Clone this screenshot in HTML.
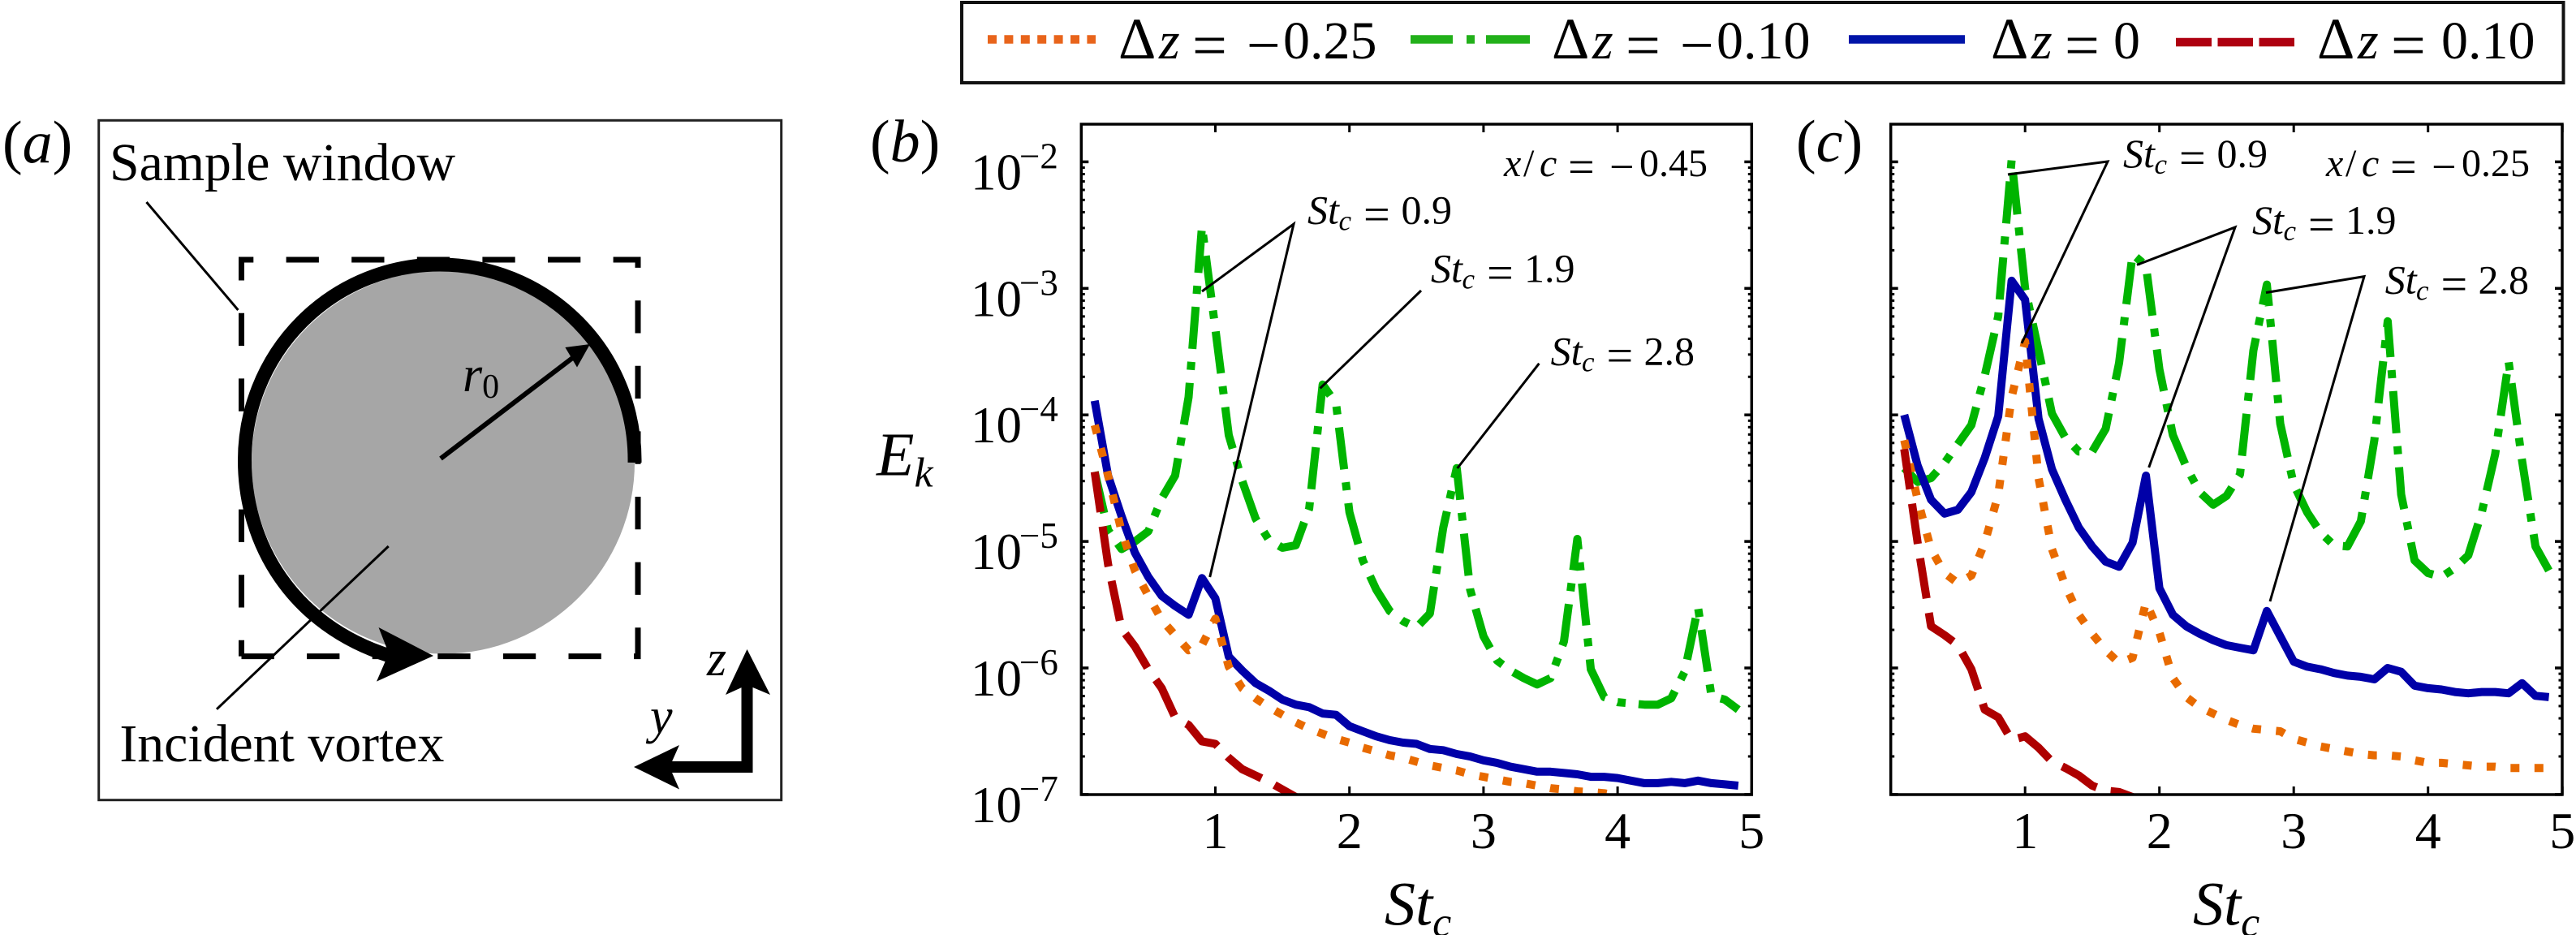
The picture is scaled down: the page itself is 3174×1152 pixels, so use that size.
<!DOCTYPE html>
<html lang="en">
<head>
<meta charset="utf-8">
<title>Vortex spectra</title>
<style>
html,body{margin:0;padding:0;background:#fff;}
svg{display:block;}
text{font-family:"Liberation Serif",serif;fill:#000;}
.i{font-style:italic;}
</style>
</head>
<body>
<svg id="figure" xmlns="http://www.w3.org/2000/svg" width="3174" height="1152" viewBox="0 0 3174 1152">
<rect x="0" y="0" width="3174" height="1152" fill="#fff"/>

<g>
<rect x="1185" y="3" width="1973.5" height="99" fill="#fff" stroke="#111" stroke-width="4"/>
<g>
<line x1="1217" y1="48.5" x2="1350" y2="48.5" stroke="#E8641B" stroke-width="10.5" stroke-dasharray="11 9.4"/>
<text y="72" font-size="66"><tspan x="1378" font-size="72">Δ</tspan><tspan x="1428" class="i">z</tspan><tspan x="1469" font-size="76" dy="9.5">=</tspan><tspan x="1536" font-size="74" dy="-0.8">−</tspan><tspan x="1581" dy="-8.7">0.25</tspan></text>
</g>
<g>
<line x1="1738" y1="48.5" x2="1885" y2="48.5" stroke="#22B01A" stroke-width="10.5" stroke-dasharray="52 17 10 14 54 0"/>
<text y="72" font-size="66"><tspan x="1912" font-size="72">Δ</tspan><tspan x="1962" class="i">z</tspan><tspan x="2003" font-size="76" dy="9.5">=</tspan><tspan x="2070" font-size="74" dy="-0.8">−</tspan><tspan x="2115" dy="-8.7">0.10</tspan></text>
</g>
<g>
<line x1="2278" y1="48.5" x2="2421" y2="48.5" stroke="#0014A8" stroke-width="10.5"/>
<text y="72" font-size="66"><tspan x="2453" font-size="72">Δ</tspan><tspan x="2503" class="i">z</tspan><tspan x="2544" font-size="76" dy="9.5">=</tspan><tspan x="2604" dy="-9.5">0</tspan></text>
</g>
<g>
<line x1="2681" y1="52" x2="2827" y2="52" stroke="#AE0010" stroke-width="10.5" stroke-dasharray="44 7.5 43.5 7.5 44 0"/>
<text y="72" font-size="66"><tspan x="2855" font-size="72">Δ</tspan><tspan x="2905" class="i">z</tspan><tspan x="2946" font-size="76" dy="9.5">=</tspan><tspan x="3008" dy="-9.5">0.10</tspan></text>
</g>
</g>

<g>
<text x="3" y="200" font-size="74">(<tspan class="i">a</tspan>)</text>
<rect x="121.7" y="148.3" width="841" height="837.4" fill="#fff" stroke="#222" stroke-width="3"/>
<circle cx="546" cy="569.5" r="236" fill="#A6A6A6"/>
<path d="M297.5,808.6 L786,808.6 L786,320 L297.5,320 L297.5,808.6" fill="none" stroke="#000" stroke-width="7" stroke-dasharray="40.3 40.3"/>
<path d="M782,570 A240,241 0 0 0 542,326 A240,241 0 0 0 301.5,567 C301.5,670 360,770 480,808" fill="none" stroke="#000" stroke-width="17"/>
<polygon points="466.5,773 534,808 464,839.6 479,805" fill="#000"/>
<line x1="543" y1="565" x2="712" y2="436" stroke="#000" stroke-width="6"/>
<polygon points="727,424 696.4,428 711,452.5" fill="#000"/>
<text x="570" y="482" font-size="62"><tspan class="i">r</tspan><tspan font-size="42" dy="8">0</tspan></text>
<text x="135" y="222" font-size="66" textLength="426" lengthAdjust="spacingAndGlyphs">Sample window</text>
<line x1="180.5" y1="249" x2="293.4" y2="382" stroke="#000" stroke-width="3"/>
<text x="147.4" y="938" font-size="66" textLength="400" lengthAdjust="spacingAndGlyphs">Incident vortex</text>
<line x1="478.7" y1="673" x2="267" y2="873.8" stroke="#000" stroke-width="3"/>
<path d="M920.5,840 V945 H820" fill="none" stroke="#000" stroke-width="14"/>
<polygon points="920.5,800 949,856 920.5,844 894,856" fill="#000"/>
<polygon points="781,945 837,918 825,945 837,972.5" fill="#000"/>
<text class="i" x="871" y="832" font-size="62">z</text>
<text class="i" x="801" y="903" font-size="62">y</text>
</g>

<text x="1072" y="199" font-size="74">(<tspan class="i">b</tspan>)</text>
<text x="2213" y="199" font-size="74">(<tspan class="i">c</tspan>)</text>
<text x="1080" y="585.5" font-size="76" class="i">E<tspan font-size="52" dy="14">k</tspan></text>
<text x="1706" y="1139.5" font-size="76" class="i">St<tspan font-size="52" dy="14">c</tspan></text>
<text x="2702" y="1139.5" font-size="76" class="i">St<tspan font-size="52" dy="14">c</tspan></text>

<g id="panel-b"></g>
<g id="panel-c"></g>

<g fill="none">
<text y="217" font-size="48"><tspan x="1853" class="i">x</tspan><tspan x="1877">/</tspan><tspan x="1897" class="i">c</tspan><tspan x="1932" font-size="58" dy="8">=</tspan><tspan x="1983" font-size="54" dy="-1.5">−</tspan><tspan x="2020" dy="-6.5">0.45</tspan></text>
<text y="275.5" font-size="50"><tspan x="1611" class="i">St</tspan><tspan x="1649.5" class="i" font-size="35" dy="8">c</tspan><tspan x="1680" font-size="58">=</tspan><tspan x="1726.5" dy="-8">0.9</tspan></text>
<text y="347.5" font-size="50"><tspan x="1763" class="i">St</tspan><tspan x="1801.5" class="i" font-size="35" dy="8">c</tspan><tspan x="1832" font-size="58">=</tspan><tspan x="1878" dy="-8">1.9</tspan></text>
<text y="449.7" font-size="50"><tspan x="1910.6" class="i">St</tspan><tspan x="1949" class="i" font-size="35" dy="8">c</tspan><tspan x="1979.5" font-size="58">=</tspan><tspan x="2025.5" dy="-8">2.8</tspan></text>
<polyline points="1481,359 1594,276 1490.7,711" stroke="#000" stroke-width="3"/>
<line x1="1751" y1="358" x2="1626.6" y2="478.4" stroke="#000" stroke-width="3"/>
<line x1="1896.4" y1="447.8" x2="1795.6" y2="577" stroke="#000" stroke-width="3"/>
</g>
<g fill="none">
<text y="217" font-size="48"><tspan x="2866" class="i">x</tspan><tspan x="2890">/</tspan><tspan x="2910" class="i">c</tspan><tspan x="2945" font-size="58" dy="8">=</tspan><tspan x="2996" font-size="54" dy="-1.5">−</tspan><tspan x="3033" dy="-6.5">0.25</tspan></text>
<text y="206" font-size="50"><tspan x="2616" class="i">St</tspan><tspan x="2654.5" class="i" font-size="35" dy="8">c</tspan><tspan x="2685" font-size="58">=</tspan><tspan x="2731.5" dy="-8">0.9</tspan></text>
<text y="288" font-size="50"><tspan x="2775" class="i">St</tspan><tspan x="2813.5" class="i" font-size="35" dy="8">c</tspan><tspan x="2844" font-size="58">=</tspan><tspan x="2890" dy="-8">1.9</tspan></text>
<text y="361.6" font-size="50"><tspan x="2938.7" class="i">St</tspan><tspan x="2977" class="i" font-size="35" dy="8">c</tspan><tspan x="3007.5" font-size="58">=</tspan><tspan x="3053.5" dy="-8">2.8</tspan></text>
<polyline points="2474,215 2597,199 2491,423" stroke="#000" stroke-width="3"/>
<polyline points="2633,326.4 2754,280 2647.7,576" stroke="#000" stroke-width="3"/>
<polyline points="2792,360.5 2913,340.6 2797,741" stroke="#000" stroke-width="3"/>
</g>
</svg>

<script>
const stValues = [0.1,0.2,0.3,0.4,0.5,0.6,0.7,0.8,0.9,1.0,1.1,1.2,1.3,1.4,1.5,1.6,1.7,1.8,1.9,2.0,2.1,2.2,2.3,2.4,2.5,2.6,2.7,2.8,2.9,3.0,3.1,3.2,3.3,3.4,3.5,3.6,3.7,3.8,3.9,4.0,4.1,4.2,4.3,4.4,4.5,4.6,4.7,4.8,4.9];
const xTickValues = [1,2,3,4,5];
const yTickExponents = [-2,-3,-4,-5,-6,-7];
const yTickMinusLabels = ["−2","−3","−4","−5","−6","−7"];
const minorMultipliers = [2,3,4,5,6,7,8,9];

/* log10(E_k) values, one per St value */
const panelBGreen = [-4.45,-4.91,-5.06,-5.0,-4.92,-4.66,-4.48,-3.86,-2.51,-3.32,-4.16,-4.52,-4.82,-4.99,-5.05,-5.03,-4.74,-3.76,-3.91,-4.77,-5.15,-5.38,-5.55,-5.63,-5.68,-5.57,-4.89,-4.42,-5.38,-5.75,-5.94,-6.02,-6.08,-6.13,-6.08,-5.79,-4.98,-6.01,-6.23,-6.27,-6.28,-6.29,-6.29,-6.24,-6.03,-5.52,-6.22,-6.25,-6.33];
const panelBBlue = [-3.888,-4.48,-4.80,-5.09,-5.28,-5.43,-5.51,-5.58,-5.29,-5.45,-5.91,-6.02,-6.12,-6.18,-6.25,-6.29,-6.31,-6.36,-6.37,-6.46,-6.50,-6.54,-6.57,-6.59,-6.60,-6.64,-6.65,-6.68,-6.70,-6.73,-6.75,-6.78,-6.80,-6.82,-6.82,-6.83,-6.84,-6.86,-6.86,-6.87,-6.89,-6.91,-6.91,-6.90,-6.91,-6.89,-6.91,-6.92,-6.93];
const panelBOrange = [-4.08,-4.48,-4.92,-5.23,-5.43,-5.62,-5.74,-5.86,-5.82,-5.61,-5.99,-6.16,-6.24,-6.31,-6.37,-6.43,-6.48,-6.52,-6.56,-6.59,-6.63,-6.66,-6.69,-6.71,-6.74,-6.77,-6.79,-6.81,-6.84,-6.86,-6.88,-6.90,-6.91,-6.93,-6.95,-6.96,-6.975,-6.98,-6.99,-7.01,-7.05];
const panelBRed = [-4.45,-5.18,-5.69,-5.83,-6.01,-6.16,-6.39,-6.45,-6.58,-6.60,-6.71,-6.80,-6.85,-6.90,-6.96,-7.02,-7.10];

const panelCGreen = [-4.42,-4.53,-4.50,-4.38,-4.23,-4.08,-3.69,-3.22,-1.985,-3.0,-3.49,-3.99,-4.18,-4.29,-4.29,-4.11,-3.59,-2.73,-2.82,-3.64,-4.16,-4.41,-4.61,-4.71,-4.64,-4.47,-3.49,-2.97,-4.07,-4.55,-4.77,-4.93,-5.03,-5.04,-4.84,-4.2,-3.26,-4.63,-5.15,-5.25,-5.28,-5.21,-5.11,-4.77,-4.31,-3.58,-4.36,-5.04,-5.23];
const panelCBlue = [-4.0,-4.40,-4.67,-4.78,-4.75,-4.61,-4.34,-4.01,-2.94,-3.09,-4.03,-4.43,-4.67,-4.89,-5.04,-5.16,-5.20,-5.01,-4.48,-5.37,-5.58,-5.67,-5.73,-5.78,-5.82,-5.84,-5.86,-5.55,-5.75,-5.95,-5.99,-6.01,-6.04,-6.06,-6.07,-6.09,-6.00,-6.03,-6.14,-6.16,-6.17,-6.19,-6.20,-6.19,-6.19,-6.20,-6.12,-6.22,-6.23];
const panelCOrange = [-4.2,-4.67,-5.06,-5.25,-5.33,-5.27,-5.01,-4.63,-3.86,-3.42,-4.5,-5.06,-5.35,-5.58,-5.73,-5.86,-5.96,-5.92,-5.48,-5.72,-6.08,-6.23,-6.31,-6.36,-6.41,-6.45,-6.48,-6.49,-6.50,-6.56,-6.59,-6.62,-6.64,-6.66,-6.68,-6.69,-6.69,-6.70,-6.73,-6.75,-6.75,-6.76,-6.77,-6.78,-6.78,-6.79,-6.79,-6.79,-6.79];
const panelCRed = [-4.27,-5.01,-5.67,-5.74,-5.82,-6.01,-6.33,-6.39,-6.57,-6.54,-6.63,-6.74,-6.79,-6.85,-6.93,-6.97,-6.98,-7.02,-7.10];

const SVG_NS = 'http://www.w3.org/2000/svg';

function makeAxis(left, right, top, bottom, y0Log, pxPerDecade, pxPerSt) {
  return {
    left: left, right: right, top: top, bottom: bottom,
    x: function (st) { return left + st * pxPerSt; },
    y: function (logE) { return y0Log + (-2 - logE) * pxPerDecade; }
  };
}

function tickLine(parent, name, x1, y1, x2, y2, width) {
  const l = document.createElementNS(SVG_NS, 'line');
  
  
  l.setAttribute('x1', x1);
  l.setAttribute('y1', y1);
  l.setAttribute('x2', x2);
  l.setAttribute('y2', y2);
  l.setAttribute('stroke', '#000');
  l.setAttribute('stroke-width', width);
  parent.appendChild(l);
}

function drawFrame(g, a) {
  const r = document.createElementNS(SVG_NS, 'rect');
  
  
  r.setAttribute('x', a.left);
  r.setAttribute('y', a.top);
  r.setAttribute('width', a.right - a.left);
  r.setAttribute('height', a.bottom - a.top);
  r.setAttribute('fill', 'none');
  r.setAttribute('stroke', '#000');
  r.setAttribute('stroke-width', '3.5');
  g.appendChild(r);
  xTickValues.forEach(function (t) {
    tickLine(g, 'x-tick-bottom', a.x(t), a.bottom, a.x(t), a.bottom - 10, 3);
    tickLine(g, 'x-tick-top', a.x(t), a.top, a.x(t), a.top + 10, 3);
    const label = document.createElementNS(SVG_NS, 'text');
    
    
    label.setAttribute('x', a.x(t));
    label.setAttribute('y', 1045);
    label.setAttribute('font-size', '64');
    label.setAttribute('text-anchor', 'middle');
    label.textContent = String(t);
    g.appendChild(label);
  });
  yTickExponents.forEach(function (e) {
    tickLine(g, 'y-tick-left', a.left, a.y(e), a.left + 9, a.y(e), 3.5);
    tickLine(g, 'y-tick-right', a.right, a.y(e), a.right - 9, a.y(e), 3.5);
    if (e > -7 ) {
      minorMultipliers.forEach(function (m) {
        const ly = a.y(e - 1 + Math.log10(m));
        tickLine(g, 'y-minor-tick-left', a.left, ly, a.left + 4.5, ly, 3);
        tickLine(g, 'y-minor-tick-right', a.right, ly, a.right - 4.5, ly, 3);
      });
    }
  });
  minorMultipliers.forEach(function (m) {
    const ly = a.y(-2 + Math.log10(m));
    if (ly > a.top) {
      tickLine(g, 'y-minor-tick-left', a.left, ly, a.left + 4.5, ly, 3);
      tickLine(g, 'y-minor-tick-right', a.right, ly, a.right - 4.5, ly, 3);
    }
  });
}

function drawYLabels(g, a) {
  yTickExponents.forEach(function (e, i) {
    const base = document.createElementNS(SVG_NS, 'text');
    
    
    base.setAttribute('x', 1196);
    base.setAttribute('y', a.y(e) + 34);
    base.setAttribute('font-size', '63');
    base.textContent = '10';
    g.appendChild(base);
    const sup = document.createElementNS(SVG_NS, 'text');
    
    
    sup.setAttribute('x', 1256);
    sup.setAttribute('y', a.y(e) + 8);
    sup.setAttribute('font-size', '45');
    sup.textContent = yTickMinusLabels[i];
    g.appendChild(sup);
  });
}

function drawSeries(g, a, clipId, name, values, color, dash) {
  const p = document.createElementNS(SVG_NS, 'path');
  
  
  let d = '';
  values.forEach(function (v, i) {
    d += (i === 0 ? 'M' : 'L') + a.x(stValues[i]).toFixed(1) + ',' + a.y(v).toFixed(1) + ' ';
  });
  p.setAttribute('d', d);
  p.setAttribute('fill', 'none');
  p.setAttribute('stroke', color);
  p.setAttribute('stroke-width', '10');
  p.setAttribute('stroke-linejoin', 'round');
  if (dash) {
    p.setAttribute('stroke-dasharray', dash);
  }
  p.setAttribute('clip-path', 'url(#' + clipId + ')');
  g.appendChild(p);
}

function addClip(g, id, a) {
  const c = document.createElementNS(SVG_NS, 'clipPath');
  c.setAttribute('id', id);
  const r = document.createElementNS(SVG_NS, 'rect');
  r.setAttribute('x', a.left);
  r.setAttribute('y', a.top);
  r.setAttribute('width', a.right - a.left);
  r.setAttribute('height', a.bottom - a.top);
  c.appendChild(r);
  g.appendChild(c);
}

const GREEN = '#00B400', BLUE = '#0000A8', ORANGE = '#E86A00', RED = '#AE0000';
const DASH_GREEN = '52 16 10 16', DASH_ORANGE = '11 18.5', DASH_RED = '50 18';

const axisB = makeAxis(1332.3, 2158.3, 153, 979, 199.4, 155.9, 165.2);
const axisC = makeAxis(2329.7, 3157, 153, 979, 199.4, 155.9, 165.5);

const gB = document.getElementById('panel-b');
addClip(gB, 'clip-b', axisB);
drawSeries(gB, axisB, 'clip-b', 'series-b-dz-minus-010', panelBGreen, GREEN, DASH_GREEN);
drawSeries(gB, axisB, 'clip-b', 'series-b-dz-zero', panelBBlue, BLUE, null);
drawSeries(gB, axisB, 'clip-b', 'series-b-dz-minus-025', panelBOrange, ORANGE, DASH_ORANGE);
drawSeries(gB, axisB, 'clip-b', 'series-b-dz-plus-010', panelBRed, RED, DASH_RED);
drawFrame(gB, axisB);
drawYLabels(gB, axisB);

const gC = document.getElementById('panel-c');
addClip(gC, 'clip-c', axisC);
drawSeries(gC, axisC, 'clip-c', 'series-c-dz-minus-010', panelCGreen, GREEN, DASH_GREEN);
drawSeries(gC, axisC, 'clip-c', 'series-c-dz-zero', panelCBlue, BLUE, null);
drawSeries(gC, axisC, 'clip-c', 'series-c-dz-minus-025', panelCOrange, ORANGE, DASH_ORANGE);
drawSeries(gC, axisC, 'clip-c', 'series-c-dz-plus-010', panelCRed, RED, DASH_RED);
drawFrame(gC, axisC);
</script>
</body>
</html>
